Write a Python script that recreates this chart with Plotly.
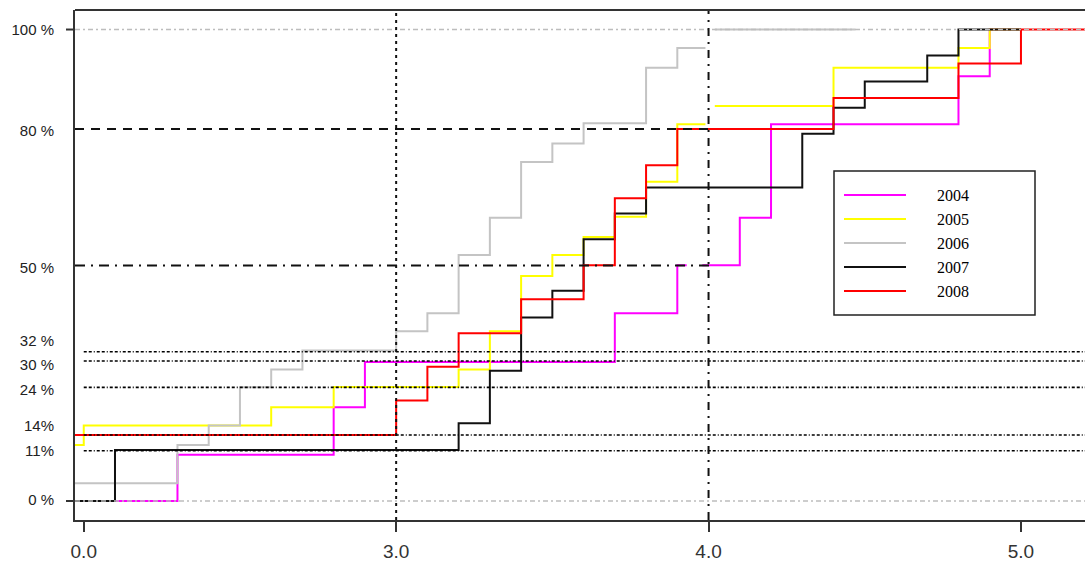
import plotly.graph_objects as go

# ---------------- data ----------------
years = ["2004", "2005", "2006", "2007", "2008"]
colors = ["#FF00FF", "#FFFF00", "#C4C4C4", "#111111", "#FF0000"]

# step functions (value holds from x[i] until x[i+1]); None = gap in drawing
x_2004 = [1.9, 2.3, 2.8, 2.9, 3.7, 3.9, 3.93, None, 3.98, 4.1, 4.2, 4.8, 4.9, 5.0]
y_2004 = [0, 9.8, 19.9, 29.5, 39.8, 50.0, 50.0, None, 50.0, 60.1, 79.9, 90.1, 100, 100]

x_2005 = [1.9, 2.0, 2.6, 2.8, 3.2, 3.3, 3.4, 3.5, 3.6, 3.7, 3.8, 3.9, 3.99, None,
          4.02, 4.4, 4.8, 4.9, 5.0]
y_2005 = [11.9, 16.0, 19.9, 24.2, 27.9, 36.0, 47.7, 52.2, 56.0, 60.3, 67.7, 79.9, 79.9, None,
          83.8, 91.9, 96.1, 100, 100]

x_2006 = [1.9, 2.3, 2.4, 2.5, 2.6, 2.7, 3.0, 3.1, 3.2, 3.3, 3.4, 3.5, 3.6, 3.8, 3.9, 3.99, None,
          4.02, 4.47]
y_2006 = [3.75, 11.9, 16.0, 24.1, 27.9, 31.9, 36.0, 39.8, 52.2, 60.1, 71.9, 75.8, 80.1, 91.9, 96.1, 96.1, None,
          100, 100]

x_2007 = [1.9, 2.1, 3.2, 3.3, 3.4, 3.5, 3.6, 3.7, 3.8, 4.3, 4.4, 4.5, 4.7, 4.8, 5.0]
y_2007 = [0, 10.8, 16.5, 27.6, 38.9, 44.6, 55.5, 61.0, 66.5, 77.9, 83.4, 89.0, 94.5, 100, 100]

x_2008 = [1.9, 3.0, 3.1, 3.2, 3.4, 3.6, 3.7, 3.8, 3.9, 4.4, 4.8, 5.0, 5.3]
y_2008 = [14.0, 21.3, 28.5, 35.6, 42.8, 50.0, 64.2, 71.2, 78.9, 85.5, 92.8, 100, 100]

series_x = [x_2004, x_2005, x_2006, x_2007, x_2008]
series_y = [y_2004, y_2005, y_2006, y_2007, y_2008]

# x axis ticks
x_tickvals = [2.0, 3.0, 4.0, 5.0]
x_ticktext = ["0.0", "3.0", "4.0", "5.0"]

# y axis labels (positions of labels) and reference levels
y_label_pos = [0.2, 10.6, 15.9, 23.6, 28.95, 34.0, 49.5, 78.5, 100]
y_label_text = ["0 %", "11%", "14%", "24 %", "30 %", "32 %", "50 %", "80 %", "100 %"]

ref_gray = [0, 100]                              # light grey dash-dot lines
ref_fine = [10.66, 14.0, 24.1, 29.7, 31.65]       # fine dotted black lines
ref_bold = [49.97, 78.9]                          # bold dashed lines (to x = 4.0)
ref_vert = [3.0, 4.0]                             # vertical lines

# ---------------- figure ----------------
W, H = 1085, 565
L, R, T, B = 75, 0, 10, 45
XR = [1.972, 5.205]
YR = [-4.03, 104.14]

def px2paper_x(px):
    return (px - L) / (W - L - R)

def px2paper_y(py):
    return (H - B - py) / (H - B - T)

fig = go.Figure()
for name, c, xs, ys in zip(years, colors, series_x, series_y):
    fig.add_trace(go.Scatter(x=xs, y=ys, mode="lines", name=name,
                             line=dict(color=c, width=2, shape="hv"),
                             connectgaps=False, showlegend=False, hoverinfo="skip"))

shapes = []
for v in ref_gray:
    shapes.append(dict(type="line", xref="paper", yref="y", x0=0, x1=1, y0=v, y1=v,
                       line=dict(color="#BDBDBD", width=1.3, dash="5px,3px,2px,3px")))
for v in ref_fine:
    shapes.append(dict(type="line", xref="x", yref="y", x0=2.0, x1=XR[1], y0=v, y1=v,
                       line=dict(color="#000000", width=1.6, dash="3px,2px,3px,2px,1px,2px")))
shapes.append(dict(type="line", xref="paper", yref="y", x0=0, x1=px2paper_x(709), y0=ref_bold[1], y1=ref_bold[1],
                   line=dict(color="#111111", width=2, dash="9px,7px")))
shapes.append(dict(type="line", xref="paper", yref="y", x0=0, x1=px2paper_x(709), y0=ref_bold[0], y1=ref_bold[0],
                   line=dict(color="#111111", width=2, dash="10px,6px,2px,6px")))
shapes.append(dict(type="line", xref="x", yref="paper", x0=ref_vert[0], x1=ref_vert[0], y0=0, y1=1,
                   line=dict(color="#111111", width=2, dash="3px,4px")))
shapes.append(dict(type="line", xref="x", yref="paper", x0=ref_vert[1], x1=ref_vert[1], y0=0, y1=1,
                   line=dict(color="#111111", width=2, dash="8px,6px,2px,6px")))
# top frame line
shapes.append(dict(type="line", xref="paper", yref="paper", x0=0, x1=1, y0=1, y1=1,
                   line=dict(color="#333333", width=2)))
# y tick marks at 0 and 100
for v in ref_gray:
    shapes.append(dict(type="line", xref="paper", yref="y", x0=px2paper_x(66), x1=0, y0=v, y1=v,
                       line=dict(color="#333333", width=2)))

# custom legend
bx0, bx1, by0, by1 = 834, 1035, 171, 315
shapes.append(dict(type="rect", xref="paper", yref="paper",
                   x0=px2paper_x(bx0), x1=px2paper_x(bx1), y0=px2paper_y(by1), y1=px2paper_y(by0),
                   line=dict(color="#222222", width=1.5), fillcolor="white", layer="above"))
annotations = []
for i, (name, c) in enumerate(zip(years, colors)):
    yy = 195 + i * 24
    shapes.append(dict(type="line", xref="paper", yref="paper",
                       x0=px2paper_x(844), x1=px2paper_x(906), y0=px2paper_y(yy), y1=px2paper_y(yy),
                       line=dict(color=c, width=2)))
    annotations.append(dict(xref="paper", yref="paper", x=px2paper_x(935), y=px2paper_y(yy),
                            text=name, showarrow=False, xanchor="left", yanchor="middle",
                            font=dict(family="Liberation Serif", size=16, color="#000000")))

fig.update_layout(
    width=W, height=H,
    margin=dict(l=L, r=R, t=T, b=B, pad=0, autoexpand=False),
    paper_bgcolor="white", plot_bgcolor="white",
    shapes=shapes, annotations=annotations,
    showlegend=False, hovermode=False,
    xaxis=dict(range=XR, tickvals=x_tickvals, ticktext=x_ticktext, automargin=False,
               ticks="outside", ticklen=10, tickwidth=2, tickcolor="#333333",
               showline=True, linecolor="#333333", linewidth=2,
               showgrid=False, zeroline=False, ticklabelstandoff=3,
               tickfont=dict(family="Liberation Sans", size=19, color="#333333")),
    yaxis=dict(range=YR, tickvals=y_label_pos, ticktext=y_label_text, automargin=False,
               ticks="", showline=True, linecolor="#333333", linewidth=2,
               showgrid=False, zeroline=False, ticklabelstandoff=16,
               tickfont=dict(family="Liberation Sans", size=15, color="#222222")),
)

fig.write_html("out.html", config={"displayModeBar": False, "staticPlot": True},
               post_script="document.body.style.margin='0';document.body.style.overflow='hidden';")
